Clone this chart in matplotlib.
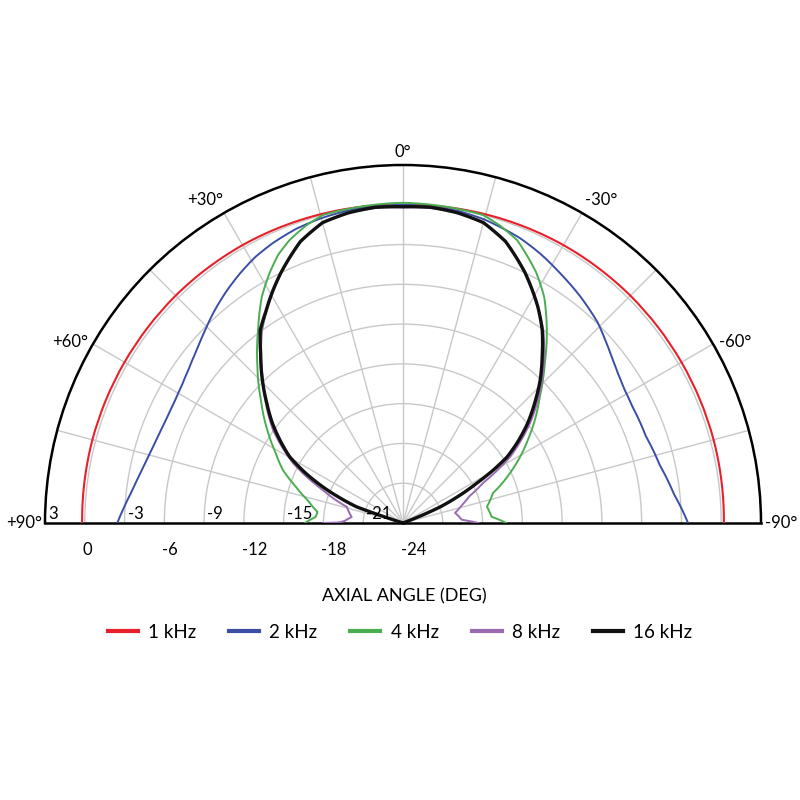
import numpy as np
import matplotlib
matplotlib.use('Agg')
import matplotlib.pyplot as plt
from matplotlib.transforms import offset_copy

plt.rcParams['font.family'] = ['Lato', 'DejaVu Sans']

# angles in degrees (+ is left of the axis), levels in dB
ang_1k = [-90, -75, -60, -45, -30, -15, 0, 15, 30, 45, 60, 75, 90]
db_1k = [0.2, 0.25, 0.25, 0.25, 0.2, 0.1, 0.0, 0.1, 0.2, 0.25, 0.25, 0.25, 0.2]

ang_2k = [-90, -83.9, -77.3, -70.3, -63, -59, -55.7, -52, -48, -44.3, -38, -32.1, -27, -22.3, -15, -10, 0,
          10, 15, 20, 25, 29, 33, 37.5, 42, 46, 50, 54.3, 58, 61.7, 65.4, 69.2, 72.8, 76.5, 80, 83.4, 86.7, 90]
db_2k = [-2.5, -3.45, -4.15, -4.55, -4.6, -4.5, -4.3, -3.95, -3.45, -2.94, -2.3, -1.74, -1.2, -0.77, -0.3, -0.1, 0.0,
         -0.08, -0.2, -0.4, -0.72, -1.05, -1.5, -2.05, -2.64, -3.2, -3.7, -4.1, -4.35, -4.48, -4.52, -4.45, -4.31, -4.08, -3.77, -3.4, -2.94, -2.45]

ang_4k = [-90, -86, -79, -71.6, -65, -56.4, -47.4, -41.6, -36.7, -32, -28, -22, -18, -14.6, -10, -5, 0,
          5, 10, 14.6, 18, 21.8, 25, 28, 32, 36.9, 42.4, 49, 55.6, 61, 66.2, 71, 76.5, 82.6, 86, 90]
db_4k = [-16.2, -17.3, -17.55, -16.85, -15.1, -12.7, -10.0, -7.9, -5.85, -3.9, -2.6, -1.0, -0.4, 0.0, 0.05, 0.1, 0.15,
         0.1, 0.05, 0.0, -0.4, -1.0, -1.7, -2.6, -3.9, -5.8, -7.7, -9.8, -11.6, -13.0, -14.1, -15.4, -16.6, -17.5, -17.4, -16.6]

ang_8k = [-90, -87, -79, -73, -68, -63.4, -58.3, -51.8, -44.2, -36, -29, -26, -23, -20, -15, -10, -5, 0,
          5, 10, 15, 20, 23, 26, 29, 36.2, 44.4, 54.4, 61.4, 67.6, 74, 83.3, 88, 89.5, 90]
db_8k = [-18.3, -19.55, -20.0, -19.35, -18.6, -17.25, -14.5, -11.8, -8.95, -6.0, -3.9, -3.0, -2.2, -1.4, -0.55, -0.25, -0.15, -0.2,
         -0.15, -0.25, -0.55, -1.4, -2.2, -3.0, -3.9, -6.0, -8.9, -11.95, -14.55, -17.45, -19.6, -20.1, -19.6, -19.2, -18.0]

ang_16k = [-90, -69, -68, -66.6, -64.1, -61.6, -59.6, -57.6, -54.5, -51.3, -47.5, -43.8, -39.8, -35.8, -32, -29, -26, -23, -20, -15, -10, -5, 0,
           5, 10, 15, 20, 23, 26, 29.2, 33, 36.5, 40, 44.6, 48.6, 52.6, 56, 59.7, 62.8, 65.8, 68.3, 70.8, 71.5, 72, 90]
db_16k = [-24, -24, -22.5, -20.95, -19.3, -17.65, -16.1, -14.7, -13.3, -11.95, -10.5, -9.05, -7.6, -6.05, -4.8, -3.9, -3.0, -2.2, -1.4, -0.55, -0.25, -0.1, -0.15,
          -0.1, -0.25, -0.55, -1.4, -2.2, -3.0, -3.9, -5.0, -5.9, -7.3, -8.9, -10.3, -11.6, -12.8, -14.1, -15.7, -17.4, -18.9, -20.3, -22.0, -24, -24]

series_labels = ['1 kHz', '2 kHz', '4 kHz', '8 kHz', '16 kHz']
series_colors = ['#e8202a', '#3a4ea6', '#4aad4f', '#9a6bb0', '#111111']

ring_values = [-21, -18, -15, -12, -9, -6, -3, 0]
ring_labels_up = ['3', '-3', '-9', '-15', '-21']
ring_labels_down = ['0', '-6', '-12', '-18', '-24']
angle_ticks = [-90, -60, -30, 0, 30, 60, 90]
angle_labels = ['-90°', '-60°', '-30°', '0°', '+30°', '+60°', '+90°']

fig = plt.figure(figsize=(8, 8), dpi=100)
# square box; the half-circle wedge is fitted into it and centred vertically
ax = fig.add_axes([0.05625, 0.1225, 0.895, 0.895], projection='polar')
ax.set_theta_zero_location('N')
ax.set_thetamin(-90)
ax.set_thetamax(90)
ax.set_rlim(-24, 3)

ax.set_thetagrids(np.arange(-75, 90, 15), labels=[''] * 11)
ax.set_rgrids(ring_values, labels=[''] * len(ring_values))
ax.grid(True, color='#c8c8c8', linewidth=1.0)
for sp in ax.spines.values():
    sp.set_color('black')
    sp.set_linewidth(1.8)
ax.tick_params(length=0)

data = [(ang_1k, db_1k), (ang_2k, db_2k), (ang_4k, db_4k), (ang_8k, db_8k), (ang_16k, db_16k)]
widths = [1.5, 1.4, 1.4, 1.4, 2.4]
for (a, d), lab, col, lw in zip(data, series_labels, series_colors, widths):
    ln, = ax.plot(np.deg2rad(a), d, color=col, lw=lw, label=lab, zorder=3)
    # let the polar transform draw each segment as a curve, not a chord
    ln.get_path()._interpolation_steps = 40

for a, s in zip(angle_ticks, angle_labels):
    if a == 0:
        ax.text(0, 3.95, s, ha='center', va='center', fontsize=12, clip_on=False)
    else:
        pos = a + (1.5 if a > 0 else -1.5) if abs(a) < 90 else a
        ax.text(np.deg2rad(pos), 4.55, s, ha='center', va='center', fontsize=12, clip_on=False)

tr_up = offset_copy(ax.transData, fig=fig, x=3, y=1, units='dots')
for s in ring_labels_up:
    ax.text(np.pi / 2, float(s), s, transform=tr_up, ha='left', va='bottom', fontsize=12)
tr_down = offset_copy(ax.transData, fig=fig, x=-2, y=-19, units='dots')
for s in ring_labels_down:
    ax.text(np.pi / 2, float(s), s, transform=tr_down, ha='left', va='top', fontsize=12, clip_on=False)

fig.text(0.505, 1 - 596 / 800, 'AXIAL ANGLE (DEG)', ha='center', va='center', fontsize=13)

leg = fig.legend(loc='center', bbox_to_anchor=(0.5, 1 - 632 / 800), ncol=5, frameon=False,
                 fontsize=13.5, handlelength=1.6, handletextpad=0.55, columnspacing=1.75)
for ln in leg.get_lines():
    ln.set_linewidth(3)

fig.savefig('out.png', dpi=100)
